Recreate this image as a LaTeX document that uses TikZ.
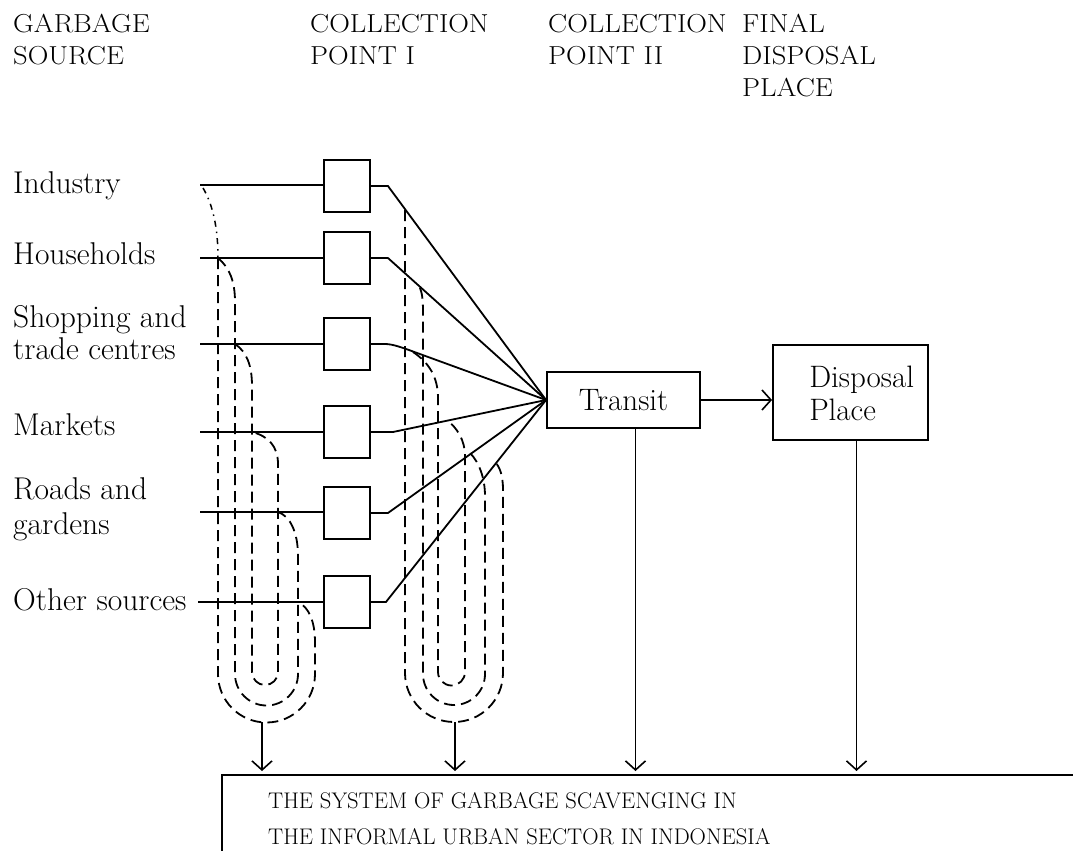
\documentclass[tikz,border=0pt]{standalone}
\usepackage{fontspec}
\usetikzlibrary{arrows.meta}
\newcommand{\hw}[1]{\scalebox{1.1}[1]{#1}}
\begin{document}
\begin{tikzpicture}[x=1pt,y=-1pt,
  src/.style={anchor=base west, inner sep=0pt, font=\fontsize{31.5}{32}\selectfont},
  src2/.style={anchor=north west, inner sep=0pt, align=left, font=\fontsize{31.5}{32}\selectfont},
  hdr/.style={anchor=north west, inner sep=0pt, align=left, font=\fontsize{26}{32}\selectfont},
  cbox/.style={draw, line width=1.9pt, minimum width=46pt, minimum height=52pt, inner sep=0pt},
  bigbox/.style={draw, line width=1.9pt, inner sep=0pt, font=\fontsize{31}{33}\selectfont},
  boxtxt/.style={inner sep=0pt, align=left, font=\fontsize{31}{33}\selectfont},
  flow/.style={line width=1.8pt},
  dsh/.style={line width=1.8pt, dash pattern=on 11pt off 6pt},
  dshdot/.style={line width=1.5pt, dash pattern=on 6pt off 5pt on 1.5pt off 5pt},
  arr/.style={line width=1.6pt, -{Straight Barb[length=9pt,width=20pt,line width=1.6pt]}},
]
\useasboundingbox (0,0) rectangle (1073,851);

% headers
\node[hdr] (h1) at (13,14) {\hw{GARBAGE}\\\hw{SOURCE}};
\node[hdr] (h2) at (310,14) {\hw{COLLECTION}\\\hw{POINT I}};
\node[hdr] (h3) at (548,14) {\hw{COLLECTION}\\\hw{POINT II}};
\node[hdr] (h4) at (742,14) {\hw{FINAL}\\\hw{DISPOSAL}\\\hw{PLACE}};

% source labels
\node[src]  (s1) at (13,193) {Industry};
\node[src]  (s2) at (13,264) {Households};
\node[src2] (s3) at (13,305) {Shopping and\\trade centres};
\node[src]  (s4) at (13,435) {Markets};
\node[src2] (s5) at (13,477) {Roads and\\[3pt]gardens};
\node[src]  (s6) at (13,610) {Other sources};

% line starts
\coordinate (a1) at (200,185);
\coordinate (a2) at (200,258);
\coordinate (a3) at (200,344);
\coordinate (a4) at (200,432);
\coordinate (a5) at (200,512);
\coordinate (a6) at (198,602);

% collection boxes
\node[cbox] (b1) at (347,186) {};
\node[cbox] (b2) at (347,258) {};
\node[cbox] (b3) at (347,344) {};
\node[cbox] (b4) at (347,432) {};
\node[cbox] (b5) at (347,513) {};
\node[cbox] (b6) at (347,602) {};

% transit and disposal
\node[bigbox, minimum width=153pt, minimum height=56pt] (T) at (623.5,400) {Transit};
\node[bigbox, minimum width=155pt, minimum height=95pt] (D) at (850.5,392.5) {};
\node[boxtxt, anchor=west] (Dt) at ([xshift=37pt,yshift=-1pt]D.west) {Disposal\\Place};

% source lines
\foreach \i in {1,...,6} \draw[flow] (a\i) -- (a\i -| b\i.west);

% box to transit
\draw[flow] (b1.east) -- ++(17,0) -- (T.west);
\draw[flow] (b2.east) -- ++(17,0) -- (T.west);
\draw[flow] (b3.east) -- ++(14,0) .. controls ++(8,0) and ++(-6,-2) .. ++(24,6) -- (T.west);
\draw[flow] (b4.east) -- ++(22,0) -- (T.west);
\draw[flow] (b5.east) -- ++(17,0) -- (T.west);
\draw[flow] (b6.east) -- ++(15,0) -- (T.west);

\draw[arr] (T.east) -- (T.east -| D.west);

% bottom box
\coordinate (btl) at (222,775);
\draw[line width=1.9pt] (1073,775) -- (btl) -- (222,851);
\node[anchor=base west, inner sep=0pt, font=\fontsize{22.6}{36}\selectfont] (sys) at (268,808)
  {THE SYSTEM OF GARBAGE SCAVENGING IN};
\node[anchor=base west, inner sep=0pt, font=\fontsize{22.6}{36}\selectfont] (sys2) at (268,844)
  {THE INFORMAL URBAN SECTOR IN INDONESIA};

% left loops
\coordinate (lb) at (262,722);
\draw[dshdot] (203,188) .. controls (213,205) and (218,228) .. (218,258);
\draw[dsh] (218,258) -- (218,674) arc[start angle=180, end angle=0, radius=48.5]
  -- (315,642) .. controls (315,622) and (309,607) .. (298,602);
\draw[dsh] (218,258) .. controls (230,268) and (235,282) .. (235,302) -- (235,674)
  arc[start angle=180, end angle=0, radius=31.5]
  -- (298,556) .. controls (298,532) and (290,516) .. (278,512);
\draw[dsh] (235,344) .. controls (247,352) and (252,366) .. (252,386) -- (252,672)
  arc[start angle=180, end angle=0, radius=13]
  -- (278,464) .. controls (278,446) and (268,436) .. (252,432);

% middle loops
\coordinate (mb) at (455,722);
\draw[dsh] (405,210) -- (405,673) arc[start angle=180, end angle=0, radius=49]
  -- (503,490) .. controls (503,476) and (500,467) .. (495,462);
\draw[dsh] (420,288) .. controls (422,293) and (423,299) .. (423,312) -- (423,674)
  arc[start angle=180, end angle=0, radius=31]
  -- (485,496) .. controls (485,478) and (479,462) .. (470,453);
\draw[dsh] (413,352) .. controls (428,362) and (438,376) .. (438,398) -- (438,672)
  arc[start angle=180, end angle=0, radius=13.5]
  -- (465,456) .. controls (465,440) and (457,428) .. (447,420);

% arrows to the system box
\draw[arr] (lb) -- (lb |- 0,771);
\draw[arr] (mb) -- (mb |- 0,771);
\draw[arr] ([xshift=12pt]T.south) -- ([xshift=12pt]T.south |- 0,771);
\draw[arr] ([xshift=6pt]D.south) -- ([xshift=6pt]D.south |- 0,771);
\end{tikzpicture}
\end{document}
